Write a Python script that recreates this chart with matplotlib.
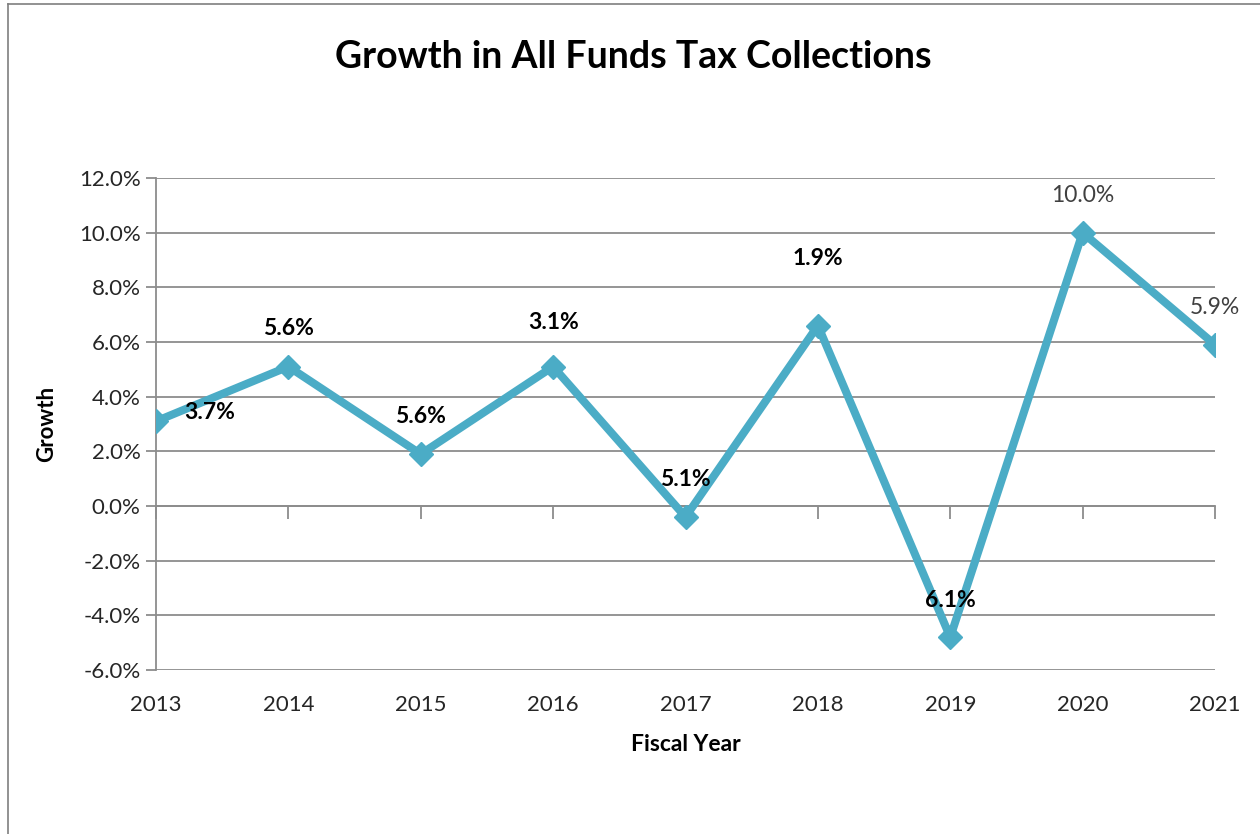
import matplotlib
matplotlib.use('Agg')
import matplotlib.pyplot as plt
from matplotlib.lines import Line2D
from matplotlib.ticker import FuncFormatter

YEARS = ['2013', '2014', '2015', '2016', '2017', '2018', '2019', '2020', '2021']
GROWTH = [3.1, 5.1, 1.9, 5.1, -0.4, 6.6, -4.8, 10.0, 5.9]
POINT_LABELS = ['3.7%', '5.6%', '5.6%', '3.1%', '5.1%', '1.9%', '6.1%', '10.0%', '5.9%']
LABEL_BOLD = [True, True, True, True, True, True, True, False, False]
Y_TICKS = [-6, -4, -2, 0, 2, 4, 6, 8, 10, 12]

LINE_COLOR = '#4BACC6'
GRID_COLOR = '#8C8C8C'
TEXT_COLOR = '#262626'

plt.rcParams['font.family'] = ['Lato', 'DejaVu Sans']

fig = plt.figure(figsize=(12.6, 8.34), dpi=100)
ax = fig.add_axes([0.1238, 0.1966, 0.8405, 0.59])

x = list(range(len(YEARS)))
ax.plot(x, GROWTH, color=LINE_COLOR, linewidth=5.8, marker='D', markersize=12,
        markerfacecolor=LINE_COLOR, markeredgecolor=LINE_COLOR, zorder=3,
        solid_joinstyle='miter')

# data labels, offsets in pixels from each marker
offsets = [(54, 9), (0, 38), (0, 38), (0, 44), (0, 37), (0, 67), (0, 37), (0, 37), (0, 37)]
for i, (txt, bold) in enumerate(zip(POINT_LABELS, LABEL_BOLD)):
    dx, dy = offsets[i]
    ax.annotate(txt, (x[i], GROWTH[i]), xytext=(dx * 0.72, dy * 0.72),
                textcoords='offset points', ha='center', va='center',
                fontsize=16.5, fontweight='bold' if bold else 'normal',
                color='black' if bold else '#404040', zorder=4)

ax.set_xlim(0, len(YEARS) - 1)
ax.set_ylim(-6, 12)
ax.set_yticks(Y_TICKS)
ax.yaxis.set_major_formatter(FuncFormatter(lambda v, p: f'{v:.1f}%'))
ax.grid(axis='y', color=GRID_COLOR, linewidth=1.3)
ax.set_axisbelow(True)

ax.set_xticks(x)
ax.set_xticklabels(YEARS)
ax.tick_params(axis='x', length=0, pad=18, labelsize=16, labelcolor=TEXT_COLOR)
ax.tick_params(axis='y', length=7, width=1.3, color=GRID_COLOR, pad=4,
               labelsize=16, labelcolor=TEXT_COLOR)

for side in ['top', 'right', 'bottom']:
    ax.spines[side].set_visible(False)
ax.spines['left'].set_color(GRID_COLOR)
ax.spines['left'].set_linewidth(1.3)

# category axis crossing at zero, with tick marks only
zero_axis = ax.secondary_xaxis(6 / 18)
zero_axis.set_xticks(x)
zero_axis.set_xticklabels([])
zero_axis.tick_params(length=9, width=1.3, color=GRID_COLOR)
zero_axis.spines['bottom'].set_color(GRID_COLOR)
zero_axis.spines['bottom'].set_linewidth(1.3)

ax.set_ylabel('Growth', fontsize=16, fontweight='bold', color='black', labelpad=16)
ax.set_xlabel('Fiscal Year', fontsize=16.5, fontweight='bold', color='black', labelpad=14)

fig.text(0.503, 0.932, 'Growth in All Funds Tax Collections', ha='center', va='center',
         fontsize=27, fontweight='bold', color='black')

# chart area border
fig.add_artist(Line2D([8 / 1260, 8 / 1260], [0, 1 - 4 / 834], color='#7F7F7F', linewidth=1.2))
fig.add_artist(Line2D([8 / 1260, 1], [1 - 4 / 834, 1 - 4 / 834], color='#7F7F7F', linewidth=1.2))

fig.savefig('out.png', dpi=100)
